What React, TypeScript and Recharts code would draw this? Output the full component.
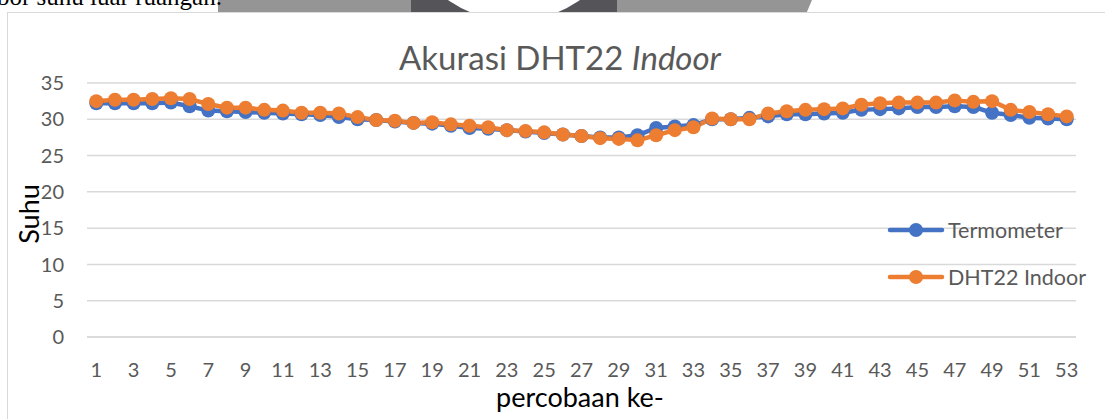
import { CartesianGrid, Legend, Line, LineChart, XAxis, YAxis } from "recharts";

const trials = [
  1, 2, 3, 4, 5, 6, 7, 8, 9, 10, 11, 12, 13, 14, 15, 16, 17, 18, 19, 20, 21,
  22, 23, 24, 25, 26, 27, 28, 29, 30, 31, 32, 33, 34, 35, 36, 37, 38, 39, 40,
  41, 42, 43, 44, 45, 46, 47, 48, 49, 50, 51, 52, 53,
];

const termometer = [
  32.2, 32.2, 32.2, 32.2, 32.3, 31.8, 31.2, 31.1, 31.0, 30.9, 30.8, 30.7, 30.6,
  30.3, 30.0, 29.9, 29.7, 29.5, 29.4, 29.1, 28.8, 28.7, 28.5, 28.3, 28.1, 27.9,
  27.7, 27.5, 27.5, 27.8, 28.8, 29.0, 29.2, 30.0, 30.0, 30.2, 30.4, 30.7, 30.7,
  30.8, 30.9, 31.3, 31.4, 31.5, 31.7, 31.7, 31.8, 31.7, 30.9, 30.6, 30.2, 30.1,
  30.0,
];

const dht22Indoor = [
  32.5, 32.7, 32.7, 32.8, 32.9, 32.8, 32.1, 31.6, 31.6, 31.3, 31.2, 30.9, 30.9,
  30.8, 30.3, 29.9, 29.8, 29.5, 29.6, 29.3, 29.1, 28.9, 28.5, 28.4, 28.2, 27.9,
  27.7, 27.4, 27.3, 27.1, 27.8, 28.5, 28.9, 30.1, 30.0, 30.0, 30.8, 31.1, 31.3,
  31.4, 31.5, 32.0, 32.2, 32.3, 32.3, 32.3, 32.6, 32.4, 32.5, 31.3, 31.0, 30.7,
  30.4,
];

const yTicks = [0, 5, 10, 15, 20, 25, 30, 35];

const BLUE = "#4472C4";
const ORANGE = "#ED7D31";
const GRID = "#d9d9d9";
const TEXT = "#595959";
const FONT = "Lato, 'Open Sans', sans-serif";

const data = trials.map((n, i) => ({
  n,
  termometer: termometer[i],
  dht22: dht22Indoor[i],
}));

const legendItems = [
  { label: "Termometer", color: BLUE },
  { label: "DHT22 Indoor", color: ORANGE },
];

function LegendContent() {
  return (
    <div>
      {legendItems.map((it) => (
        <div
          key={it.label}
          style={{ display: "flex", alignItems: "center", height: 47 }}
        >
          <svg width={58} height={16}>
            <line
              x1={3}
              x2={55}
              y1={8}
              y2={8}
              stroke={it.color}
              strokeWidth={4.5}
              strokeLinecap="round"
            />
            <circle cx={29} cy={8} r={7} fill={it.color} />
          </svg>
          <span
            style={{
              marginLeft: 3,
              fontSize: 21.5,
              color: TEXT,
              fontFamily: FONT,
              whiteSpace: "nowrap",
            }}
          >
            {it.label}
          </span>
        </div>
      ))}
    </div>
  );
}

export default function App() {
  return (
    <div
      style={{
        position: "fixed",
        left: 0,
        top: 0,
        width: 1105,
        height: 419,
        overflow: "hidden",
        background: "#fff",
      }}
    >
      {/* bits of the page the chart was cut from */}
      <div
        style={{
          position: "absolute",
          left: 218,
          top: 0,
          width: 594,
          height: 14,
          background: "#959595",
          clipPath: "polygon(0 0, 100% 0, 99% 100%, 0 100%)",
        }}
      />
      <div
        style={{
          position: "absolute",
          left: 411,
          top: 0,
          width: 206,
          height: 14,
          background: "#555559",
          overflow: "hidden",
        }}
      >
        <div
          style={{
            position: "absolute",
            left: 103 - 114,
            top: -93 - 114,
            width: 228,
            height: 228,
            borderRadius: "50%",
            background: "#fff",
          }}
        />
      </div>
      <div
        style={{
          position: "absolute",
          left: -3,
          top: -17,
          fontFamily: "'Liberation Serif', serif",
          fontSize: 25,
          color: "#000",
          whiteSpace: "nowrap",
        }}
      >
        bor suhu luar ruangan.
      </div>

      <div
        style={{
          position: "absolute",
          left: 7,
          top: 12,
          width: 1110,
          height: 440,
          border: `1.5px solid ${GRID}`,
          background: "#fff",
        }}
      />

      <div
        style={{
          position: "absolute",
          left: 0,
          top: 37,
          width: 1120,
          textAlign: "center",
          fontFamily: FONT,
          fontSize: 33,
          lineHeight: "40px",
          color: TEXT,
        }}
      >
        Akurasi DHT22 <i>Indoor</i>
      </div>

      <div
        style={{
          position: "absolute",
          left: 29,
          top: 214,
          transform: "translate(-50%, -50%) rotate(-90deg)",
          fontFamily: FONT,
          fontSize: 27,
          lineHeight: "32px",
          color: "#000",
          whiteSpace: "nowrap",
        }}
      >
        Suhu
      </div>

      <div
        style={{
          position: "absolute",
          left: 380,
          top: 381,
          width: 400,
          textAlign: "center",
          fontFamily: FONT,
          fontSize: 27,
          lineHeight: "32px",
          color: "#000",
        }}
      >
        percobaan ke-
      </div>

      <div style={{ position: "absolute", left: 0, top: 0 }}>
        <LineChart
          width={1105}
          height={419}
          data={data}
          margin={{ top: 83, right: 29, bottom: 42, left: 27 }}
        >
          <CartesianGrid
            vertical={false}
            stroke={GRID}
            strokeWidth={1.5}
          />
          <XAxis
            dataKey="n"
            interval={1}
            height={40}
            padding={{ left: 9.3, right: 9.3 }}
            tickLine={false}
            tickSize={0}
            tickMargin={26}
            axisLine={{ stroke: GRID, strokeWidth: 1.5 }}
            tick={{ fontSize: 20, fill: TEXT, fontFamily: FONT }}
          />
          <YAxis
            domain={[0, 35]}
            ticks={yTicks}
            width={60}
            tickLine={false}
            tickSize={0}
            tickMargin={23}
            axisLine={false}
            tick={{ fontSize: 20, fill: TEXT, fontFamily: FONT }}
          />
          <Legend
            layout="vertical"
            align="center"
            verticalAlign="middle"
            content={<LegendContent />}
            wrapperStyle={{ left: 887, top: 206, width: "auto" }}
          />
          <Line
            type="linear"
            dataKey="termometer"
            name="Termometer"
            stroke={BLUE}
            strokeWidth={4.5}
            dot={{ r: 7, fill: BLUE, stroke: BLUE, strokeWidth: 0 }}
            activeDot={false}
            isAnimationActive={false}
          />
          <Line
            type="linear"
            dataKey="dht22"
            name="DHT22 Indoor"
            stroke={ORANGE}
            strokeWidth={4.5}
            dot={{ r: 7, fill: ORANGE, stroke: ORANGE, strokeWidth: 0 }}
            activeDot={false}
            isAnimationActive={false}
          />
        </LineChart>
      </div>
    </div>
  );
}
